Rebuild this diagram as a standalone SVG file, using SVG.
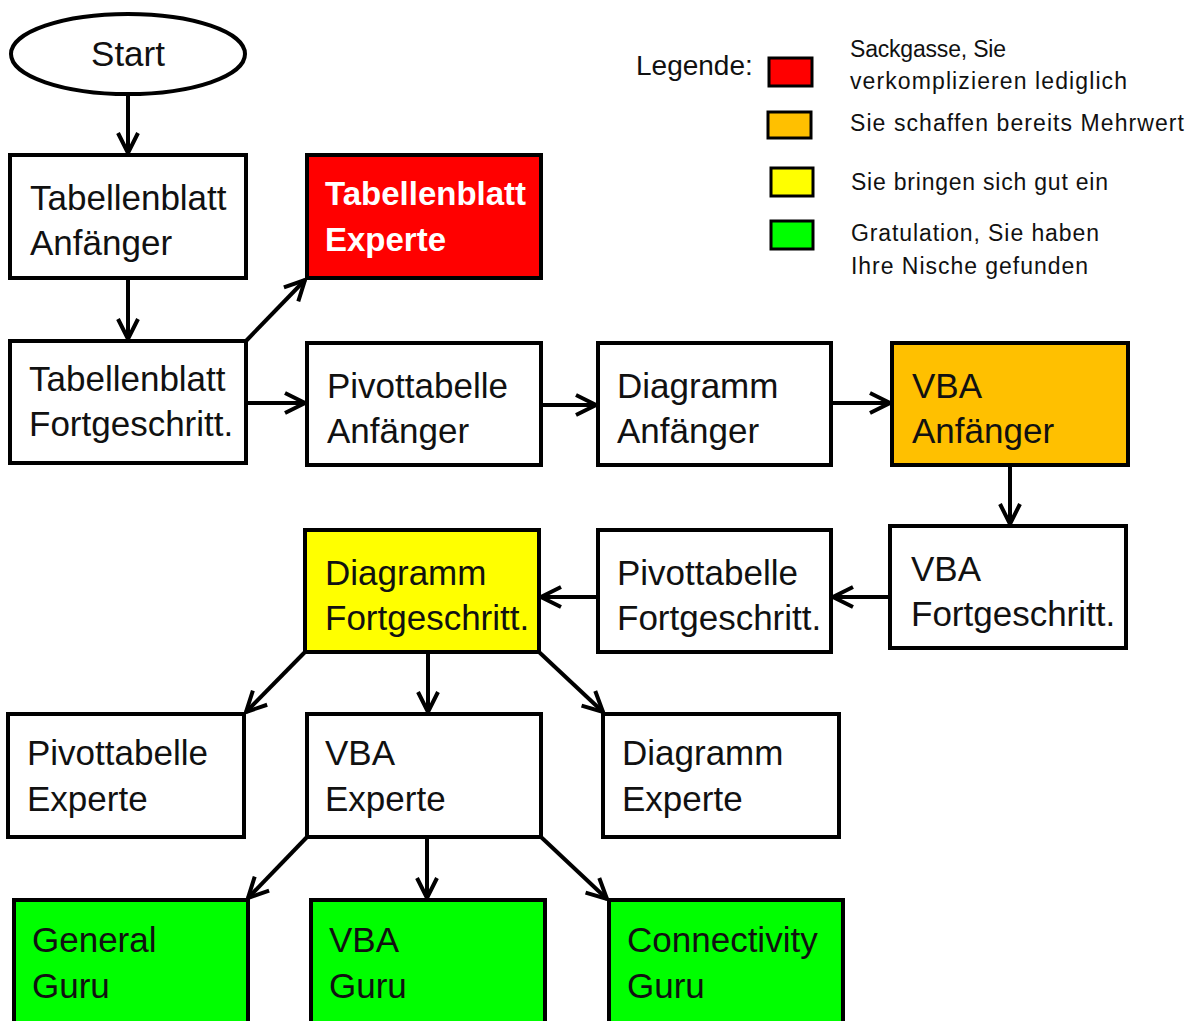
<svg xmlns="http://www.w3.org/2000/svg" width="1196" height="1021" viewBox="0 0 1196 1021">
<defs>
<style>
.box{stroke:#000;stroke-width:4;fill:#fff}
.red{fill:#ff0000}.org{fill:#ffc000}.yel{fill:#ffff00}.grn{fill:#00ff00}
.t{font-family:"Liberation Sans",Arial,sans-serif;font-size:35px;fill:#111}
.tb{font-family:"Liberation Sans",Arial,sans-serif;font-size:33px;font-weight:bold;fill:#fff}
.lg{font-family:"Liberation Sans",Arial,sans-serif;font-size:23px;fill:#111}
.sw{stroke:#000;stroke-width:3}
.c{stroke:#000;stroke-width:4;fill:none;marker-end:url(#ah)}
</style>
<marker id="ah" viewBox="0 0 12 12" refX="11" refY="6" markerWidth="6" markerHeight="6" markerUnits="strokeWidth" orient="auto">
<path d="M1,1 L11,6 L1,11" fill="none" stroke="#000" stroke-width="2"/>
</marker>
</defs>
<rect width="1196" height="1021" fill="#fff"/>

<g id="connectors">
<line class="c" x1="128" y1="94" x2="128" y2="153"/>
<line class="c" x1="128" y1="278" x2="128" y2="339"/>
<line class="c" x1="246" y1="341" x2="305" y2="280"/>
<line class="c" x1="246" y1="403" x2="305" y2="403"/>
<line class="c" x1="541" y1="405" x2="596" y2="405"/>
<line class="c" x1="831" y1="403" x2="890" y2="403"/>
<line class="c" x1="1010" y1="465" x2="1010" y2="524"/>
<line class="c" x1="890" y1="597" x2="833" y2="597"/>
<line class="c" x1="598" y1="597" x2="541" y2="597"/>
<line class="c" x1="305" y1="652" x2="246" y2="712"/>
<line class="c" x1="428" y1="652" x2="428" y2="712"/>
<line class="c" x1="539" y1="652" x2="603" y2="712"/>
<line class="c" x1="307" y1="837" x2="248" y2="898"/>
<line class="c" x1="427" y1="837" x2="427" y2="898"/>
<line class="c" x1="541" y1="837" x2="607" y2="899"/>
</g>

<g id="start">
<ellipse class="box" cx="128" cy="54" rx="117" ry="40"/>
<text class="t" x="128" y="66" text-anchor="middle">Start</text>
</g>
<g id="tab-anf">
<rect class="box" x="10" y="155" width="236" height="123"/>
<text class="t" x="30" y="210">Tabellenblatt</text>
<text class="t" x="30" y="255">Anfänger</text>
</g>
<g id="tab-exp">
<rect class="box red" x="307" y="155" width="234" height="123"/>
<text class="tb" x="325" y="205">Tabellenblatt</text>
<text class="tb" x="325" y="251">Experte</text>
</g>
<g id="tab-fort">
<rect class="box" x="10" y="341" width="236" height="122"/>
<text class="t" x="29" y="391">Tabellenblatt</text>
<text class="t" x="29" y="436">Fortgeschritt.</text>
</g>
<g id="pivot-anf">
<rect class="box" x="307" y="343" width="234" height="122"/>
<text class="t" x="327" y="398">Pivottabelle</text>
<text class="t" x="327" y="443">Anfänger</text>
</g>
<g id="diag-anf">
<rect class="box" x="598" y="343" width="233" height="122"/>
<text class="t" x="617" y="398">Diagramm</text>
<text class="t" x="617" y="443">Anfänger</text>
</g>
<g id="vba-anf">
<rect class="box org" x="892" y="343" width="236" height="122"/>
<text class="t" x="912" y="398">VBA</text>
<text class="t" x="912" y="443">Anfänger</text>
</g>
<g id="vba-fort">
<rect class="box" x="890" y="526" width="236" height="122"/>
<text class="t" x="911" y="581">VBA</text>
<text class="t" x="911" y="626">Fortgeschritt.</text>
</g>
<g id="pivot-fort">
<rect class="box" x="598" y="530" width="233" height="122"/>
<text class="t" x="617" y="585">Pivottabelle</text>
<text class="t" x="617" y="630">Fortgeschritt.</text>
</g>
<g id="diag-fort">
<rect class="box yel" x="305" y="530" width="234" height="122"/>
<text class="t" x="325" y="585">Diagramm</text>
<text class="t" x="325" y="630">Fortgeschritt.</text>
</g>
<g id="pivot-exp">
<rect class="box" x="8" y="714" width="236" height="123"/>
<text class="t" x="27" y="765">Pivottabelle</text>
<text class="t" x="27" y="811">Experte</text>
</g>
<g id="vba-exp">
<rect class="box" x="307" y="714" width="234" height="123"/>
<text class="t" x="325" y="765">VBA</text>
<text class="t" x="325" y="811">Experte</text>
</g>
<g id="diag-exp">
<rect class="box" x="603" y="714" width="236" height="123"/>
<text class="t" x="622" y="765">Diagramm</text>
<text class="t" x="622" y="811">Experte</text>
</g>
<g id="general-guru">
<rect class="box grn" x="14" y="900" width="234" height="140"/>
<text class="t" x="32" y="952">General</text>
<text class="t" x="32" y="998">Guru</text>
</g>
<g id="vba-guru">
<rect class="box grn" x="311" y="900" width="234" height="140"/>
<text class="t" x="329" y="952">VBA</text>
<text class="t" x="329" y="998">Guru</text>
</g>
<g id="conn-guru">
<rect class="box grn" x="609" y="900" width="234" height="140"/>
<text class="t" x="627" y="952">Connectivity</text>
<text class="t" x="627" y="998">Guru</text>
</g>

<g id="legend">
<text class="lg" x="636" y="75" style="font-size:28px">Legende:</text>
<rect class="sw red" x="769" y="58" width="43" height="28"/>
<rect class="sw org" x="768" y="112" width="43" height="26"/>
<rect class="sw yel" x="771" y="168" width="42" height="28"/>
<rect class="sw grn" x="771" y="221" width="42" height="28"/>
<text class="lg" x="850" y="57" textLength="156">Sackgasse, Sie</text>
<text class="lg" x="850" y="89" textLength="277">verkomplizieren lediglich</text>
<text class="lg" x="850" y="131" textLength="334">Sie schaffen bereits Mehrwert</text>
<text class="lg" x="851" y="190" textLength="257">Sie bringen sich gut ein</text>
<text class="lg" x="851" y="241" textLength="248">Gratulation, Sie haben</text>
<text class="lg" x="851" y="274" textLength="237">Ihre Nische gefunden</text>
</g>
</svg>
